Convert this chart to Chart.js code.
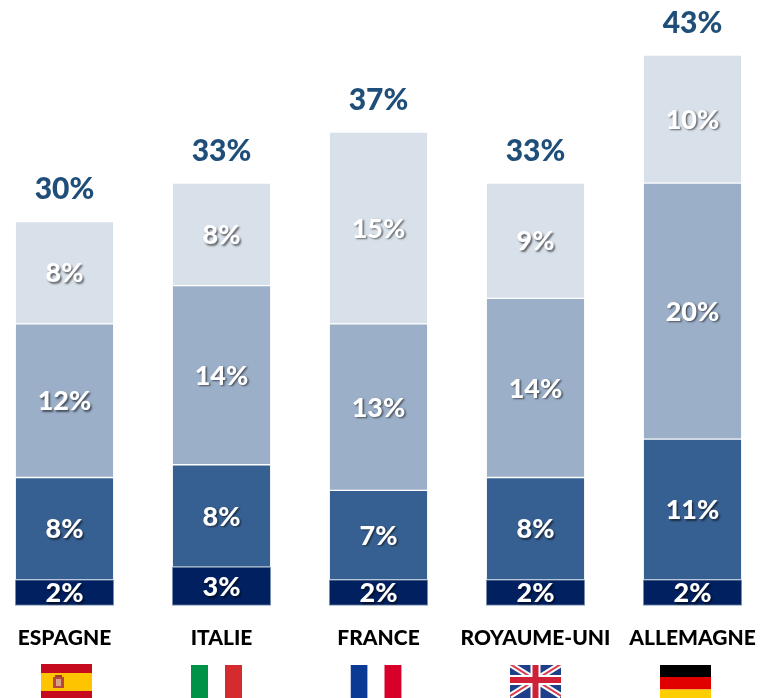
<!DOCTYPE html>
<html>
<head>
<meta charset="utf-8">
<style>
  html, body { margin: 0; padding: 0; background: #fff; overflow: hidden; }
  canvas { display: block; }
</style>
<script src="https://cdn.jsdelivr.net/npm/chart.js@4/dist/chart.umd.js"></script>
</head>
<body>
<canvas id="chart" width="768" height="698"></canvas>
<script>
const countries = ['ESPAGNE', 'ITALIE', 'FRANCE', 'ROYAUME-UNI', 'ALLEMAGNE'];
const layer1 = [2, 3, 2, 2, 2];
const layer2 = [8, 8, 7, 8, 11];
const layer3 = [12, 14, 13, 14, 20];
const layer4 = [8, 8, 15, 9, 10];
const totals = [30, 33, 37, 33, 43];
const flagShift = [2, -5, -2.5, 0, -7];

function drawFlag(ctx, name, x, y, w, h) {
  const stripesV = (cols) => cols.forEach((c, i) => {
    ctx.fillStyle = c;
    ctx.fillRect(x + i * w / 3, y, w / 3 + 0.3, h);
  });
  const stripesH = (rows) => rows.forEach(([c, from, size]) => {
    ctx.fillStyle = c;
    ctx.fillRect(x, y + from, w, size);
  });
  ctx.save();
  ctx.beginPath();
  ctx.rect(x, y, w, h);
  ctx.clip();
  if (name === 'ESPAGNE') {
    stripesH([['#c60b1e', -1, 10], ['#ffc400', 9, 18], ['#c60b1e', 27, 12]]);
    ctx.fillStyle = '#b5483a';
    ctx.fillRect(x + 12, y + 13, 11, 11);
    ctx.fillStyle = '#d9a08a';
    ctx.fillRect(x + 15, y + 15, 5, 7);
    ctx.fillStyle = '#a33a2c';
    ctx.fillRect(x + 14, y + 11, 7, 2);
  } else if (name === 'ITALIE') {
    stripesV(['#009246', '#ffffff', '#d52b2e']);
  } else if (name === 'FRANCE') {
    stripesV(['#0a3a94', '#ffffff', '#d8002b']);
  } else if (name === 'ROYAUME-UNI') {
    ctx.fillStyle = '#1f3f8a';
    ctx.fillRect(x, y, w, h);
    const cx = x + w / 2, cy = y + 15;
    const line = (x1, y1, x2, y2, c, lw) => {
      ctx.strokeStyle = c;
      ctx.lineWidth = lw;
      ctx.beginPath();
      ctx.moveTo(x1, y1);
      ctx.lineTo(x2, y2);
      ctx.stroke();
    };
    line(x, y - 1, x + w, y + 31, '#ffffff', 6);
    line(x + w, y - 1, x, y + 31, '#ffffff', 6);
    line(x, y - 1, x + w, y + 31, '#d9404f', 2);
    line(x + w, y - 1, x, y + 31, '#d9404f', 2);
    line(cx, y, cx, y + h, '#ffffff', 10);
    line(x, cy, x + w, cy, '#ffffff', 10);
    line(cx, y, cx, y + h, '#cf2037', 6);
    line(x, cy, x + w, cy, '#cf2037', 6);
  } else {
    stripesH([['#000000', 0, 12], ['#e00000', 12, 12.5], ['#ffce00', 24.5, 13]]);
  }
  ctx.restore();
}

const barText = {
  id: 'barText',
  afterDraw(chart) {
    const { ctx, scales: { x, y } } = chart;
    ctx.save();
    ctx.textAlign = 'center';
    ctx.textBaseline = 'middle';
    // segment labels
    ctx.font = '900 27px Lato, sans-serif';
    chart.data.datasets.forEach((ds, d) => {
      chart.getDatasetMeta(d).data.forEach((bar, i) => {
        const mid = (bar.y + bar.base) / 2;
        ctx.fillStyle = '#fff';
        ctx.shadowColor = 'rgba(0,0,0,0.55)';
        ctx.shadowBlur = 2;
        ctx.shadowOffsetX = 1.5;
        ctx.shadowOffsetY = 1.5;
        ctx.fillText(ds.data[i] + '%', bar.x, mid + 1);
      });
    });
    // totals above the stacks
    ctx.shadowColor = 'transparent';
    ctx.shadowBlur = 0;
    ctx.shadowOffsetX = 0;
    ctx.shadowOffsetY = 0;
    ctx.font = '900 30px Lato, sans-serif';
    ctx.fillStyle = '#1f4e79';
    totals.forEach((t, i) => {
      ctx.fillText(t + '%', x.getPixelForTick(i), y.getPixelForValue(t) - 32);
    });
    // flags under the names
    countries.forEach((name, i) => {
      const cx = x.getPixelForTick(i) + flagShift[i];
      drawFlag(ctx, name, cx - 25.5, name === 'ESPAGNE' ? 664 : 665, 51, 34);
    });
    ctx.restore();
  }
};

const makeLayer = (data, color, border) => ({
  data,
  backgroundColor: color,
  borderColor: border,
  borderWidth: 1,
  borderSkipped: false,
  barThickness: 98.5,
  clip: false
});

new Chart(document.getElementById('chart'), {
  type: 'bar',
  plugins: [barText],
  data: {
    labels: countries,
    datasets: [
      makeLayer(layer1, '#002060', '#8497b0'),
      makeLayer(layer2, '#376092', '#ffffff'),
      makeLayer(layer3, '#9bafc8', '#ffffff'),
      makeLayer(layer4, '#d8e0ea', '#ffffff')
    ]
  },
  options: {
    responsive: false,
    animation: false,
    layout: { padding: { left: 64.5, right: 75.5, top: 4, bottom: 0 } },
    plugins: { legend: { display: false }, tooltip: { enabled: false } },
    scales: {
      x: {
        stacked: true,
        offset: false,
        afterFit(scale) {
          scale.height = 92.5;
          scale.paddingLeft = 0;
          scale.paddingRight = 0;
        },
        grid: { display: false, drawTicks: false },
        border: { display: false },
        ticks: {
          color: '#000',
          padding: 20,
          maxRotation: 0,
          autoSkip: false,
          font: { family: 'Lato, sans-serif', size: 21, weight: '900' }
        }
      },
      y: { stacked: true, display: false, min: 0, max: 47 }
    }
  }
});
</script>
</body>
</html>
